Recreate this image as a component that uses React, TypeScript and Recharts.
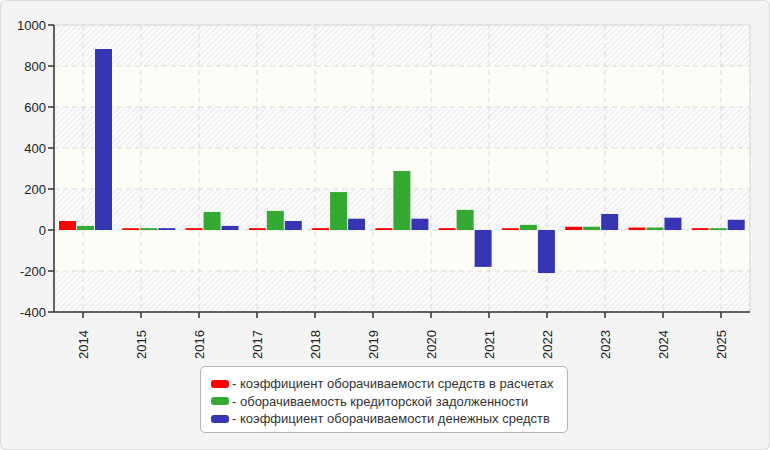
import React from "react";
import {
  BarChart,
  Bar,
  XAxis,
  YAxis,
  CartesianGrid,
  Legend,
  ReferenceLine,
} from "recharts";

// Year tick labels on the category axis (12 labels)
const years = ["2014", "2015", "2016", "2017", "2018", "2019", "2020", "2021", "2022", "2023", "2024", "2025"];

// Bar groups (11 groups drawn across the plot)
const groupIndex = [0, 1, 2, 3, 4, 5, 6, 7, 8, 9, 10];
const receivablesTurnover = [44, 9, 9, 9, 9, 9, 9, 9, 16, 12, 9];
const payablesTurnover = [20, 9, 88, 93, 185, 288, 98, 25, 16, 12, 9];
const cashTurnover = [883, 9, 20, 44, 55, 55, -180, -210, 78, 60, 50];

const yTicks = [-400, -200, 0, 200, 400, 600, 800, 1000];

const seriesNames = [
  "коэффициент оборачиваемости средств в расчетах",
  "оборачиваемость кредиторской задолженности",
  "коэффициент оборачиваемости денежных средств",
];
const seriesColors = ["#ff0000", "#34aa34", "#3636b4"];

const data = groupIndex.map((g, i) => ({
  g,
  pos: g + 0.5,
  a: receivablesTurnover[i],
  b: payablesTurnover[i],
  c: cashTurnover[i],
}));

const labelTicks = years.map((_, i) => i + 0.5);

const FONT = "Arial, 'Liberation Sans', sans-serif";

const XTick = (props: any) => {
  const { x, y, payload } = props;
  const label = years[Math.floor(payload.value)];
  return (
    <g transform={`translate(${x},${y + 10})`}>
      <text
        transform="rotate(-90)"
        textAnchor="end"
        dy="0.35em"
        fontSize={13}
        fontFamily={FONT}
        fill="#222"
      >
        {label}
      </text>
    </g>
  );
};

const LegendBox = () => (
  <div
    style={{
      width: 368,
      height: 67,
      boxSizing: "border-box",
      border: "1px solid #b4b4b4",
      borderRadius: 5,
      background: "#ffffff",
      padding: "8px 0 0 10px",
      fontFamily: FONT,
      fontSize: 13,
      color: "#333",
      textAlign: "left",
    }}
  >
    {seriesNames.map((n, i) => (
      <div key={n} style={{ display: "flex", alignItems: "center", height: 17.5 }}>
        <span
          style={{
            display: "inline-block",
            width: 18,
            height: 8,
            borderRadius: 3,
            background: seriesColors[i],
            marginRight: 3,
          }}
        />
        <span>- {n}</span>
      </div>
    ))}
  </div>
);

export default function App() {
  return (
    <div
      style={{
        position: "fixed",
        left: 0,
        top: 0,
        width: 770,
        height: 450,
        background: "#f4f4f4",
        boxShadow: "inset 0 0 0 1px #dcdcdc",
        borderRadius: 6,
      }}
    >
      <BarChart
        width={770}
        height={450}
        data={data}
        margin={{ top: 25, right: 20, bottom: 88, left: 0 }}
        barGap={1}
        barSize={17}
      >
        <defs>
          <pattern
            id="hatch"
            patternUnits="userSpaceOnUse"
            width="4"
            height="4"
            patternTransform="rotate(45)"
          >
            <rect width="4" height="4" fill="#fbfbfb" />
            <line x1="0" y1="0" x2="0" y2="4" stroke="#ebebeb" strokeWidth="2" />
          </pattern>
        </defs>
        <CartesianGrid
          xAxisId="labels"
          strokeDasharray="5 4"
          stroke="#dadada"
          horizontalFill={["url(#hatch)", "#fdfdf7"]}
          fillOpacity={1}
        />
        <XAxis xAxisId="bars" dataKey="g" type="category" hide height={0} />
        <XAxis
          xAxisId="labels"
          dataKey="pos"
          type="number"
          domain={[0, 12]}
          allowDataOverflow
          ticks={labelTicks}
          interval={0}
          height={50}
          tick={<XTick />}
          tickSize={6}
          axisLine={{ stroke: "#333", strokeWidth: 1.5 }}
          tickLine={{ stroke: "#333", strokeWidth: 1.5 }}
        />
        <YAxis
          domain={[-400, 1000]}
          ticks={yTicks}
          interval={0}
          width={54}
          tickSize={6}
          tick={{ fontSize: 13, fontFamily: FONT, fill: "#222" }}
          axisLine={{ stroke: "#333", strokeWidth: 1.5 }}
          tickLine={{ stroke: "#333", strokeWidth: 1.5 }}
        />
        <ReferenceLine y={1000} xAxisId="labels" stroke="#dcdcdc" />
        <ReferenceLine x={12} xAxisId="labels" stroke="#dcdcdc" />
        <Legend
          layout="vertical"
          align="center"
          verticalAlign="middle"
          content={<LegendBox />}
          wrapperStyle={{ left: 200, top: 366, width: 368, height: 67 }}
        />
        <Bar xAxisId="bars" dataKey="a" name={seriesNames[0]} fill={seriesColors[0]} isAnimationActive={false} />
        <Bar xAxisId="bars" dataKey="b" name={seriesNames[1]} fill={seriesColors[1]} isAnimationActive={false} />
        <Bar xAxisId="bars" dataKey="c" name={seriesNames[2]} fill={seriesColors[2]} isAnimationActive={false} />
      </BarChart>
    </div>
  );
}
